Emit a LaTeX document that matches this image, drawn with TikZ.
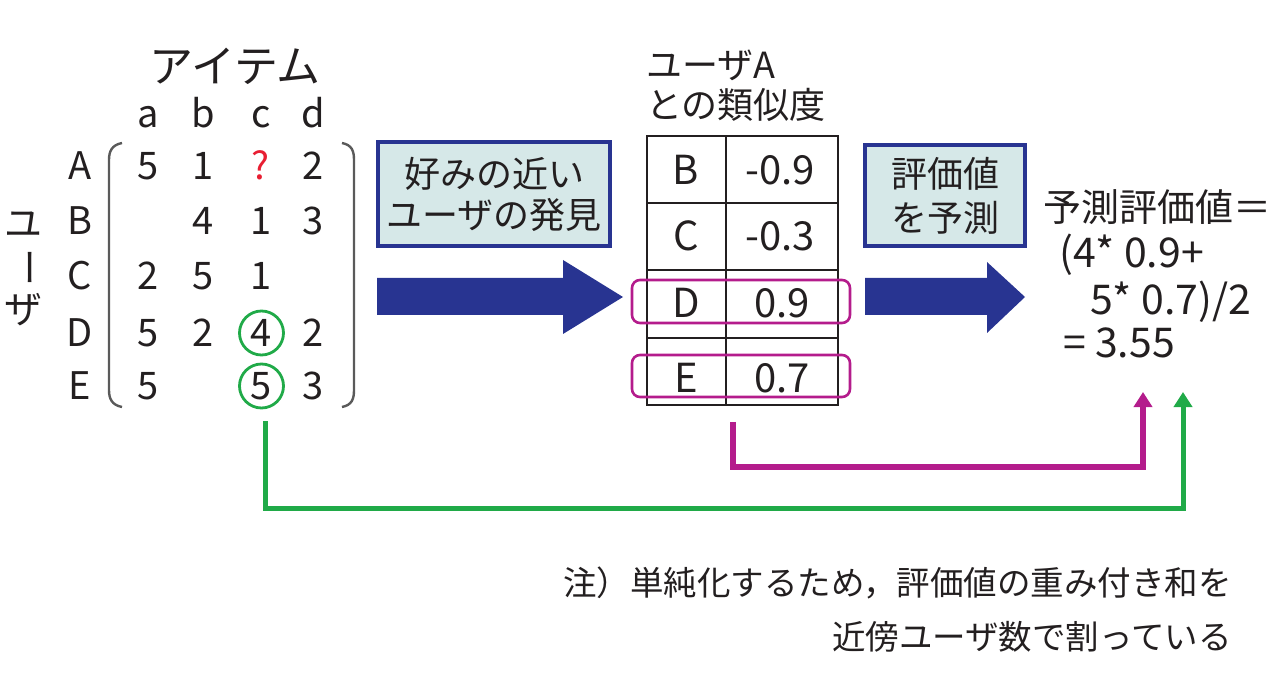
\documentclass[tikz,border=0pt]{standalone}
\usepackage{fontspec}
\setmainfont{Noto Sans CJK JP}
\usetikzlibrary{arrows.meta,calc}
\definecolor{ink}{RGB}{35,31,32}
\definecolor{navy}{RGB}{40,52,145}
\definecolor{boxfill}{RGB}{214,232,232}
\definecolor{mag}{RGB}{180,28,140}
\definecolor{grn}{RGB}{32,170,72}
\definecolor{qred}{RGB}{232,30,50}
\definecolor{parencol}{RGB}{90,90,90}
\begin{document}
\begin{tikzpicture}[x=1pt,y=-1pt,
  lat/.style={text=ink,inner sep=0pt,anchor=base,font=\fontsize{38}{40}\selectfont},
  jp/.style={text=ink,inner sep=0pt,font=\fontsize{36}{41}\selectfont},
  tlat/.style={text=ink,inner sep=0pt,anchor=base,font=\fontsize{40}{44}\selectfont},
  flat/.style={text=ink,inner sep=0pt,anchor=base west,font=\fontsize{41}{44}\selectfont},
  note/.style={text=ink,inner sep=0pt,anchor=east,font=\fontsize{33.5}{36}\selectfont},
  ring/.style={draw=grn,line width=2.8pt,circle,minimum size=44pt,inner sep=0pt},
  actbox/.style={draw=navy,fill=boxfill,line width=4pt,align=center,text=ink,font=\fontsize{36}{41}\selectfont,inner sep=0pt},
  selbox/.style={draw=mag,line width=2.6pt,rounded corners=8pt,minimum width=218pt,inner sep=0pt},
  gridline/.style={draw=ink,line width=1.8pt},
  parenline/.style={draw=parencol,line width=2.4pt},
  bigarrow/.style={fill=navy},
  conn/.style={line width=#1,-{Triangle[width=18pt,length=15pt]}},
]
\useasboundingbox (0,0) rectangle (1280,676);

% ---------- rating matrix ----------
\node[jp,font=\fontsize{44}{46}\selectfont] (items) at (235,66) {アイテム};
\node[jp,font=\fontsize{38}{40}\selectfont] (u1) at (24,225) {ユ};
\node[jp,font=\fontsize{38}{40}\selectfont,rotate=-90] (u2) at (24,268) {ー};
\node[jp,font=\fontsize{38}{40}\selectfont] (u3) at (24,310) {ザ};

\node[lat] (ca) at (148,128) {a};
\node[lat] (cb) at (203,128) {b};
\node[lat] (cc) at (261,128) {c};
\node[lat] (cd) at (313,128) {d};

\node[lat] (rA) at (80,180) {A};
\node[lat] (rB) at (80,235) {B};
\node[lat] (rC) at (80,290) {C};
\node[lat] (rD) at (80,346) {D};
\node[lat] (rE) at (80,399) {E};

\node[lat] (mAa) at (148,180) {5};
\node[lat] (mAb) at (203,180) {1};
\node[lat,text=qred] (mAc) at (261,180) {?};
\node[lat] (mAd) at (313,180) {2};

\node[lat] (mBb) at (203,235) {4};
\node[lat] (mBc) at (261,235) {1};
\node[lat] (mBd) at (313,235) {3};

\node[lat] (mCa) at (148,290) {2};
\node[lat] (mCb) at (203,290) {5};
\node[lat] (mCc) at (261,290) {1};

\node[lat] (mDa) at (148,346) {5};
\node[lat] (mDb) at (203,346) {2};
\node[lat] (mDc) at (261,346) {4};
\node[lat] (mDd) at (313,346) {2};

\node[lat] (mEa) at (148,399) {5};
\node[lat] (mEc) at (261,399) {5};
\node[lat] (mEd) at (313,399) {3};

\node[ring] (cD) at (261.5,333) {};
\node[ring] (cE) at (261.5,386) {};

\draw[parenline] (122,143) .. controls (112,145) and (109,151) .. (109,160) -- (109,390) .. controls (109,399) and (112,405) .. (122,407);
\draw[parenline] (342,143) .. controls (352,145) and (354,151) .. (354,160) -- (354,390) .. controls (354,399) and (352,405) .. (342,407);

% ---------- step 1 ----------
\node[actbox,minimum width=232pt,minimum height=104pt] (find) at (494,194) {好みの近い\\ユーザの発見};
\fill[bigarrow] (377,278) -- (563,278) -- (563,260) -- (623,297) -- (563,334) -- (563,315) -- (377,315) -- cycle;

% ---------- similarity table ----------
\node[jp,anchor=west,align=left,font=\fontsize{36}{40}\selectfont] (simhead) at (646,86) {ユーザA\\との類似度};
\node[gridline,minimum width=191pt,minimum height=269pt,inner sep=0pt] (tbl) at (742.5,270.5) {};
\draw[gridline] (726,136) -- (726,405);
\draw[gridline] (647,203) -- (838,203);
\draw[gridline] (647,270) -- (838,270);
\draw[gridline] (647,338) -- (838,338);

\node[tlat] (tB) at (686,185) {B};
\node[tlat] (vB) at (780,185) {-0.9};
\node[tlat] (tC) at (686,251) {C};
\node[tlat] (vC) at (780,251) {-0.3};
\node[tlat] (tD) at (686,318) {D};
\node[tlat] (vD) at (782,318) {0.9};
\node[tlat] (tE) at (686,392) {E};
\node[tlat] (vE) at (782,392) {0.7};

\node[selbox,minimum height=43pt] (selD) at (741,301.5) {};
\node[selbox,minimum height=42pt] (selE) at (741,376) {};

% ---------- step 2 ----------
\node[actbox,minimum width=160pt,minimum height=101pt,font=\fontsize{36}{44}\selectfont] (pred) at (945,195.5) {評価値\\を予測};
\fill[bigarrow] (865,278) -- (987,278) -- (987,262) -- (1025,297) -- (987,333) -- (987,315) -- (865,315) -- cycle;

% ---------- formula ----------
\node[jp,anchor=west,font=\fontsize{38}{40}\selectfont] (f1) at (1043,207) {予測評価値＝};
\node[flat] (f2) at (1059,268) {(4* 0.9+};
\node[flat] (f3) at (1090,315) {5* 0.7)/2};
\node[flat] (f4) at (1063,357) {= 3.55};

% ---------- connectors ----------
\coordinate (ms) at ($(tbl.south)+(-9.5,16)$);
\coordinate (gs) at ($(cE.south)+(3.5,12)$);
\coordinate (tipM) at (1143,392);
\coordinate (tipG) at (1183,392);
\draw[conn=6pt,draw=mag] (ms) -- ++(0,45) -| (tipM);
\draw[conn=5pt,draw=grn] (gs) -- ++(0,87) -| (tipG);

% ---------- note ----------
\node[note] (n1) at (1232,583) {注）単純化するため，評価値の重み付き和を};
\node[note] (n2) at (1232,637) {近傍ユーザ数で割っている};
\end{tikzpicture}
\end{document}
